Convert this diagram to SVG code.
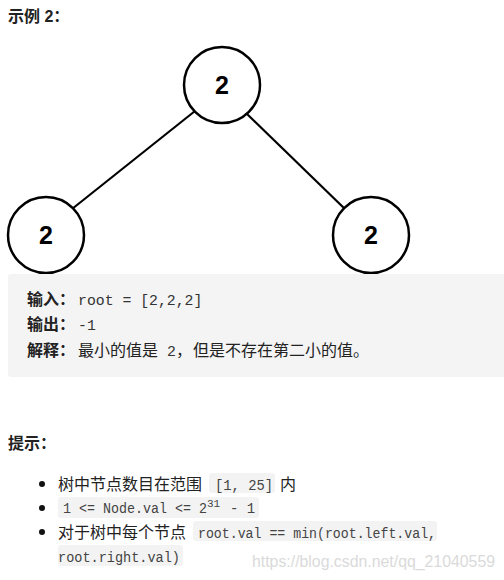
<svg xmlns="http://www.w3.org/2000/svg" width="504" height="580" viewBox="0 0 504 580">
<style>
.cn{font-family:"Liberation Sans","Noto Sans CJK SC",sans-serif;font-size:16px;fill:#222}
.b{font-weight:bold}
.mono{font-family:"Liberation Mono","Noto Sans CJK SC",monospace;fill:#333}
.code{font-size:14px;fill:#444}
.node circle{fill:#fff;stroke:#000;stroke-width:2.5}
.node text{font-family:"Liberation Sans",sans-serif;font-weight:bold;font-size:25px;text-anchor:middle;fill:#000}
.edges line{stroke:#000;stroke-width:2.2}
.cbox{fill:#f3f3f3}
</style>
<rect width="504" height="580" fill="#fff"/>
<text class="cn b" x="8" y="22" font-size="15.5">示例 2：</text>

<g class="edges">
<line x1="195" y1="111" x2="72" y2="209"/>
<line x1="246" y1="113" x2="346" y2="210"/>
</g>
<g id="n-root" class="node"><circle cx="222" cy="85" r="38"/><text x="222" y="94">2</text></g>
<g id="n-left" class="node"><circle cx="46" cy="235" r="38"/><text x="46" y="244">2</text></g>
<g id="n-right" class="node"><circle cx="371" cy="235" r="38"/><text x="371" y="244">2</text></g>

<rect x="8" y="274" width="500" height="103" rx="3" fill="#f4f4f4"/>
<text class="cn b" x="27" y="305">输入：</text>
<text class="mono" x="78" y="305" font-size="14.8">root = [2,2,2]</text>
<text class="cn b" x="27" y="330">输出：</text>
<text class="mono" x="78" y="330" font-size="14.8">-1</text>
<text class="cn b" x="27" y="356">解释：</text>
<text class="cn" x="78" y="356">最小的值是</text>
<text class="mono" x="167" y="356" font-size="14.8">2</text>
<text class="cn" x="176" y="356">，</text>
<text class="cn" x="193" y="356">但是不存在第二小的值。</text>

<text class="cn b" x="8" y="449" font-size="15.5">提示：</text>

<circle cx="42" cy="484" r="3" fill="#111"/>
<circle cx="42" cy="508" r="3" fill="#111"/>
<circle cx="42" cy="532" r="3" fill="#111"/>

<text class="cn" x="58" y="490">树中节点数目在范围</text>
<rect class="cbox" x="209" y="473" width="66" height="20" rx="3"/>
<text class="mono code" x="215" y="490" textLength="58" lengthAdjust="spacingAndGlyphs">[1, 25]</text>
<text class="cn" x="280" y="490">内</text>

<rect class="cbox" x="58" y="497" width="201" height="21" rx="3"/>
<text class="mono code" y="513"><tspan x="63" textLength="144" lengthAdjust="spacingAndGlyphs">1 &lt;= Node.val &lt;= 2</tspan><tspan x="207" y="507" font-size="11">31</tspan><tspan x="230" y="513">- 1</tspan></text>

<text class="cn" x="58" y="538">对于树中每个节点</text>
<rect class="cbox" x="193" y="521" width="244" height="20" rx="3"/>
<text class="mono code" x="198" y="538" textLength="238" lengthAdjust="spacingAndGlyphs">root.val == min(root.left.val,</text>
<rect class="cbox" x="58" y="545" width="125" height="21" rx="3"/>
<text class="mono code" x="58" y="562" textLength="122" lengthAdjust="spacingAndGlyphs">root.right.val)</text>

<text x="252" y="567" font-family="Liberation Sans,sans-serif" font-size="16" fill="#dadada" textLength="243" lengthAdjust="spacingAndGlyphs">https://blog.csdn.net/qq_21040559</text>
</svg>
